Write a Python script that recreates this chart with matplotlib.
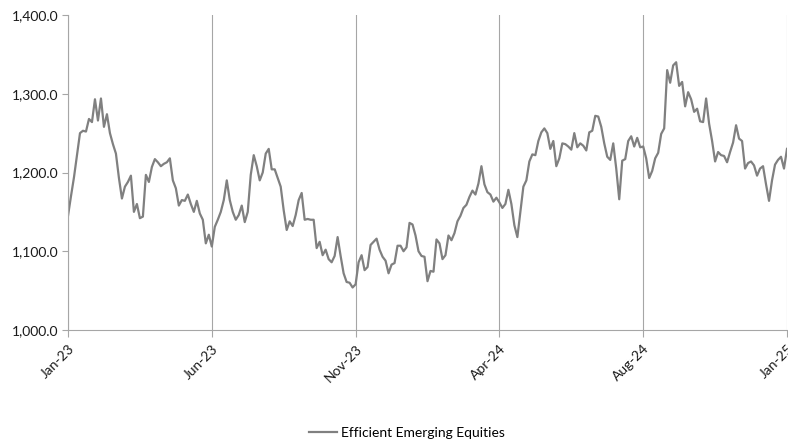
import numpy as np
import matplotlib
matplotlib.use('Agg')
from matplotlib import pyplot as plt

plt.rcParams['font.family'] = ['Lato', 'DejaVu Sans']

series_name = 'Efficient Emerging Equities'
tick_labels = ['Jan-23', 'Jun-23', 'Nov-23', 'Apr-24', 'Aug-24', 'Jan-25']
y_ticks = [1000, 1100, 1200, 1300, 1400]

# index level, one point every few trading days
values = [
    1145, 1170, 1194, 1222, 1250, 1253, 1252, 1268, 1264, 1293,
    1266, 1294, 1258, 1274, 1250, 1236, 1224, 1193, 1167, 1182,
    1188, 1196, 1150, 1160, 1142, 1144, 1197, 1188, 1207, 1217,
    1213, 1208, 1211, 1213, 1218, 1190, 1180, 1158, 1165, 1164,
    1172, 1160, 1150, 1164, 1148, 1140, 1110, 1121, 1106, 1131,
    1140, 1150, 1165, 1190, 1165, 1150, 1140, 1146, 1158, 1137,
    1150, 1197, 1222, 1208, 1190, 1200, 1224, 1230, 1204, 1204,
    1193, 1182, 1152, 1127, 1138, 1132, 1146, 1165, 1174, 1140,
    1141, 1140, 1140, 1104, 1112, 1095, 1102, 1090, 1086, 1094,
    1118, 1094, 1072, 1061, 1060, 1054, 1058, 1086, 1095, 1076,
    1080, 1108, 1112, 1116, 1102, 1093, 1088, 1072, 1083, 1085,
    1107, 1107, 1100, 1105, 1136, 1134, 1120, 1100, 1094, 1093,
    1062, 1075, 1074, 1115, 1110, 1090, 1095, 1120, 1114, 1123,
    1138, 1145, 1155, 1159, 1169, 1177, 1172, 1186, 1208, 1185,
    1175, 1172, 1163, 1168, 1162, 1155, 1160, 1178, 1160, 1133,
    1118, 1150, 1182, 1190, 1214, 1223, 1222, 1240, 1251, 1256,
    1250, 1230, 1240, 1208, 1218, 1237, 1236, 1233, 1229, 1250,
    1232, 1237, 1234, 1228, 1251, 1253, 1272, 1271, 1258, 1237,
    1220, 1216, 1237, 1205, 1166, 1215, 1217, 1240, 1246, 1233,
    1244, 1232, 1233, 1218, 1193, 1202, 1218, 1225, 1249, 1256,
    1330, 1314, 1336, 1340, 1310, 1315, 1284, 1302, 1293, 1277,
    1281, 1265, 1264, 1294, 1262, 1240, 1214, 1226, 1222, 1221,
    1213, 1226, 1238, 1260, 1243, 1240, 1205, 1212, 1214, 1209,
    1196, 1205, 1208, 1185, 1164, 1190, 1210, 1216, 1220, 1205,
    1230,
]

x = np.arange(len(values))
tick_pos = np.linspace(0, len(values) - 1, len(tick_labels))

fig = plt.figure(figsize=(7.88, 4.42), dpi=100)
ax = fig.add_axes([68 / 788, 1 - 330 / 442, 719 / 788, 315 / 442])

line, = ax.plot(x, values, color='#808080', lw=1.6, label=series_name)

ax.set_xlim(0, len(values) - 1)
ax.set_ylim(1000, 1400)
ax.set_yticks(y_ticks)
ax.set_yticklabels(['{:,.1f}'.format(v) for v in y_ticks])
ax.set_xticks(tick_pos)
ax.set_xticklabels(tick_labels, rotation=45, ha='right', rotation_mode='anchor')

ax.grid(axis='x', color='#a6a6a6', lw=0.8)
ax.set_axisbelow(True)
for s in ['top', 'right']:
    ax.spines[s].set_visible(False)
for s in ['left', 'bottom']:
    ax.spines[s].set_color('#a6a6a6')
    ax.spines[s].set_linewidth(0.8)
ax.tick_params(axis='both', colors='#a6a6a6', labelcolor='#1a1a1a', labelsize=10, width=0.8)
ax.tick_params(axis='x', length=5, pad=4)
ax.tick_params(axis='y', length=4, pad=3)

fig.legend(handles=[line], loc='center', bbox_to_anchor=(0.517, 0.021),
           frameon=False, fontsize=10, handlelength=2.0, handletextpad=0.3)

fig.savefig('out.png', dpi=100)
